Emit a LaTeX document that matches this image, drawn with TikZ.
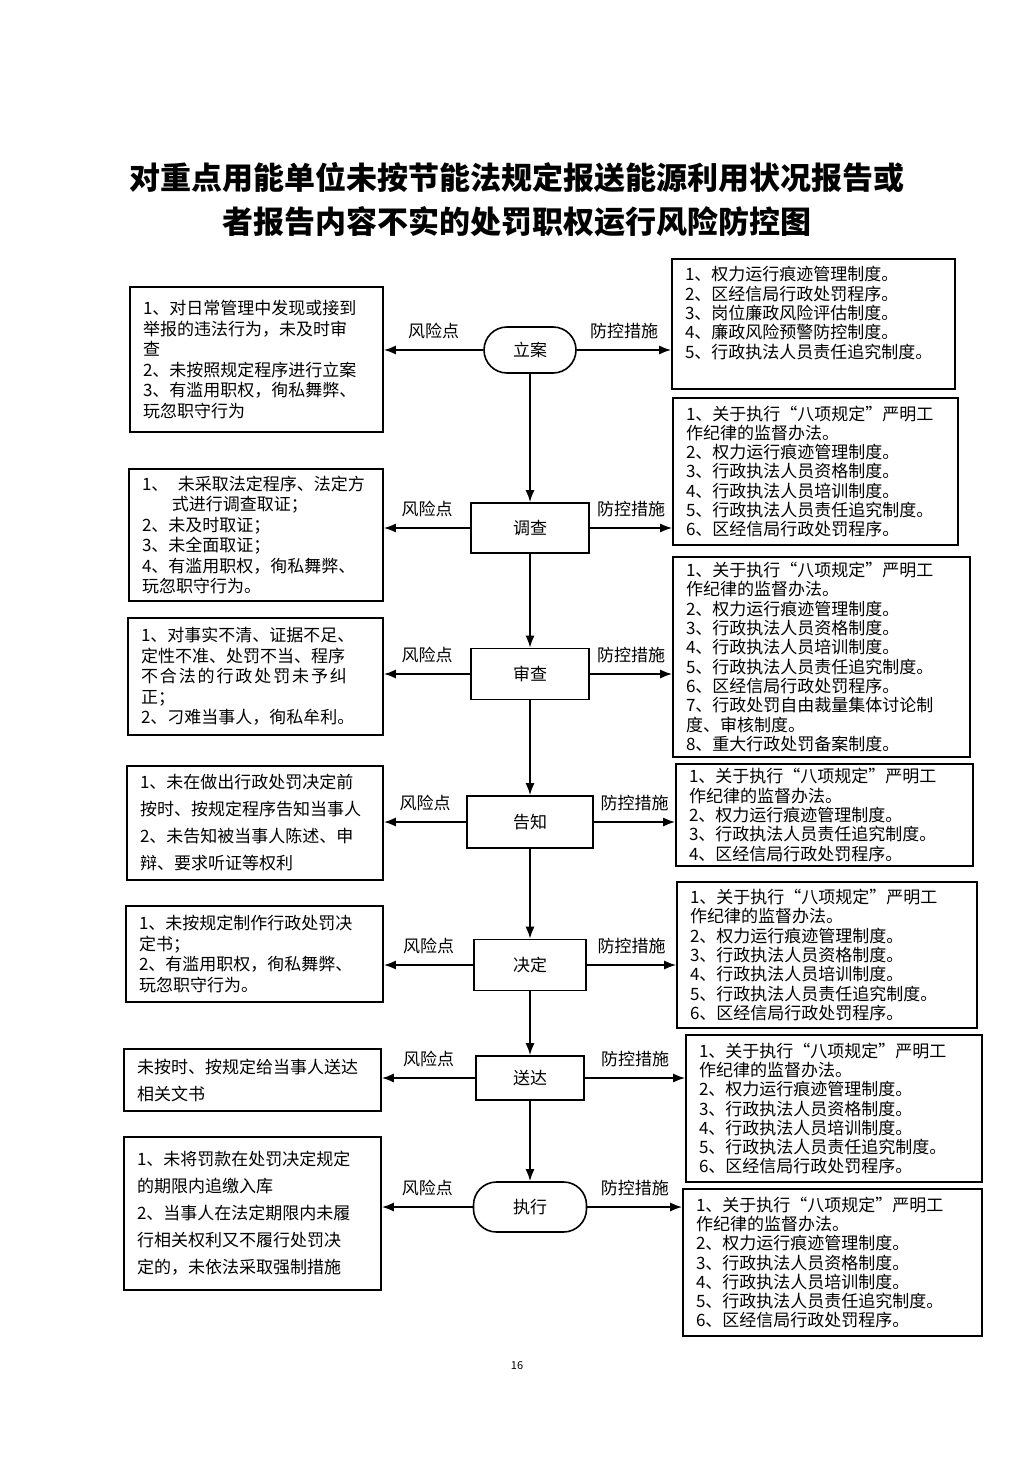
\documentclass[tikz,border=0pt]{standalone}
\usepackage{fontspec}
\setmainfont{Noto Sans CJK SC}
\usetikzlibrary{arrows.meta}

\tikzset{
  stepbox/.style={draw, line width=1.6pt, minimum width=118pt, minimum height=50pt,
    font=\fontsize{17}{20}\selectfont},
  stepround/.style={stepbox, rounded corners=23pt},
  riskbox/.style={draw, line width=1.6pt, inner xsep=13pt, inner ysep=4pt, align=left,
    font=\fontsize{17}{20.5}\selectfont},
  riskwide/.style={riskbox, font=\fontsize{17}{27}\selectfont},
  ctrlbox/.style={riskbox, font=\fontsize{17}{19.3}\selectfont},
  flow/.style={line width=1.8pt, -{Latex[length=12pt,width=9pt]}},
  tag/.style={font=\fontsize{17}{20}\selectfont, above=7pt}
}

\begin{document}
\begin{tikzpicture}[x=1pt,y=-1pt]
    \useasboundingbox (0,0) rectangle (1033,1461);

    % title
    \node[align=center, font=\fontsize{31}{44}\selectfont\bfseries] (title) at (517,200)
      {对重点用能单位未按节能法规定报送能源利用状况报告或\\者报告内容不实的处罚职权运行风险防控图};

    % steps
    \node[stepround, minimum width=92pt, minimum height=46pt] (lian) at (530,350) {立案};
    \node[stepbox] (diaocha) at (530,528) {调查};
    \node[stepbox, minimum height=51pt] (shencha) at (530,674) {审查};
    \node[stepbox, minimum width=126pt, minimum height=52pt] (gaozhi) at (530,822) {告知};
    \node[stepbox, minimum width=112pt, minimum height=51pt] (jueding) at (530,965) {决定};
    \node[stepbox, minimum width=108pt, minimum height=44pt] (songda) at (530,1078) {送达};
    \node[stepround, minimum width=113pt, minimum height=50pt] (zhixing) at (530,1207) {执行};

    % risk points
    \node[riskbox, text width=227pt, minimum height=145pt] (r1) at (256.5,359.5)
      {1、对日常管理中发现或接到\\举报的违法行为，未及时审\\查\\2、未按照规定程序进行立案\\3、有滥用职权，徇私舞弊、\\玩忽职守行为};
    \node[riskbox, text width=228pt, minimum height=132pt] (r2) at (256,535)
      {1、\hspace{0.55em}未采取法定程序、法定方\\\hspace*{1.75em}式进行调查取证；\\2、未及时取证；\\3、未全面取证；\\4、有滥用职权，徇私舞弊、\\玩忽职守行为。};
    \node[riskbox, text width=229pt, minimum height=117pt] (r3) at (255.5,676.5)
      {1、对事实不清、证据不足、\\定性不准、处罚不当、程序\\\makebox[206pt][s]{不\hfill 合\hfill 法\hfill 的\hfill 行\hfill 政\hfill 处\hfill 罚\hfill 未\hfill 予\hfill 纠}\\正；\\2、刁难当事人，徇私牟利。};
    \node[riskwide, text width=230pt, minimum height=114pt] (r4) at (255,823)
      {1、未在做出行政处罚决定前\\按时、按规定程序告知当事人\\2、未告知被当事人陈述、申\\辩、要求听证等权利};
    \node[riskbox, text width=231pt, minimum height=96pt] (r5) at (254.5,954)
      {1、未按规定制作行政处罚决\\定书；\\2、有滥用职权，徇私舞弊、\\玩忽职守行为。};
    \node[riskwide, text width=231pt, minimum height=62pt] (r6) at (252.5,1080)
      {未按时、按规定给当事人送达\\相关文书};
    \node[riskwide, text width=231pt, minimum height=153pt] (r7) at (252.5,1213.5)
      {1、未将罚款在处罚决定规定\\的期限内追缴入库\\2、当事人在法定期限内未履\\行相关权利又不履行处罚决\\定的，未依法采取强制措施};

    % control measures
    \node[ctrlbox, text width=257pt, minimum height=130pt] (c1) at (813.5,324)
      {1、权力运行痕迹管理制度。\\2、区经信局行政处罚程序。\\3、岗位廉政风险评估制度。\\4、廉政风险预警防控制度。\\5、行政执法人员责任追究制度。\\[4pt]\mbox{}};
    \node[ctrlbox, text width=259pt, minimum height=147pt] (c2) at (815.5,471.5)
      {1、关于执行“八项规定”严明工\\作纪律的监督办法。\\2、权力运行痕迹管理制度。\\3、行政执法人员资格制度。\\4、行政执法人员培训制度。\\5、行政执法人员责任追究制度。\\6、区经信局行政处罚程序。};
    \node[ctrlbox, text width=271pt, minimum height=200pt] (c3) at (821.5,657)
      {1、关于执行“八项规定”严明工\\作纪律的监督办法。\\2、权力运行痕迹管理制度。\\3、行政执法人员资格制度。\\4、行政执法人员培训制度。\\5、行政执法人员责任追究制度。\\6、区经信局行政处罚程序。\\7、行政处罚自由裁量集体讨论制\\度、审核制度。\\8、重大行政处罚备案制度。};
    \node[ctrlbox, text width=271pt, minimum height=102pt] (c4) at (824.5,815)
      {1、关于执行“八项规定”严明工\\作纪律的监督办法。\\2、权力运行痕迹管理制度。\\3、行政执法人员责任追究制度。\\4、区经信局行政处罚程序。};
    \node[ctrlbox, text width=274pt, minimum height=146pt] (c5) at (827,955)
      {1、关于执行“八项规定”严明工\\作纪律的监督办法。\\2、权力运行痕迹管理制度。\\3、行政执法人员资格制度。\\4、行政执法人员培训制度。\\5、行政执法人员责任追究制度。\\6、区经信局行政处罚程序。};
    \node[ctrlbox, text width=270pt, minimum height=147pt] (c6) at (834,1108.5)
      {1、关于执行“八项规定”严明工\\作纪律的监督办法。\\2、权力运行痕迹管理制度。\\3、行政执法人员资格制度。\\4、行政执法人员培训制度。\\5、行政执法人员责任追究制度。\\6、区经信局行政处罚程序。};
    \node[ctrlbox, text width=273pt, minimum height=147pt] (c7) at (832.5,1262.5)
      {1、关于执行“八项规定”严明工\\作纪律的监督办法。\\2、权力运行痕迹管理制度。\\3、行政执法人员资格制度。\\4、行政执法人员培训制度。\\5、行政执法人员责任追究制度。\\6、区经信局行政处罚程序。};

    \node[font=\fontsize{11}{13}\selectfont] (pagenum) at (517,1366) {16};

    % main flow
    \draw[flow] (lian) -- (diaocha);
    \draw[flow] (diaocha) -- (shencha);
    \draw[flow] (shencha) -- (gaozhi);
    \draw[flow] (gaozhi) -- (jueding);
    \draw[flow] (jueding) -- (songda);
    \draw[flow] (songda) -- (zhixing);

    % risk and control branches
    \foreach \s/\r/\c in {lian/r1/c1, diaocha/r2/c2, shencha/r3/c3, gaozhi/r4/c4,
                          jueding/r5/c5, songda/r6/c6, zhixing/r7/c7} {
      \draw[flow] (\s.west) -- node[tag] {风险点} (\s.west -| \r.east);
      \draw[flow] (\s.east) -- node[tag] {防控措施} (\s.east -| \c.west);
    }
\end{tikzpicture}
\end{document}
